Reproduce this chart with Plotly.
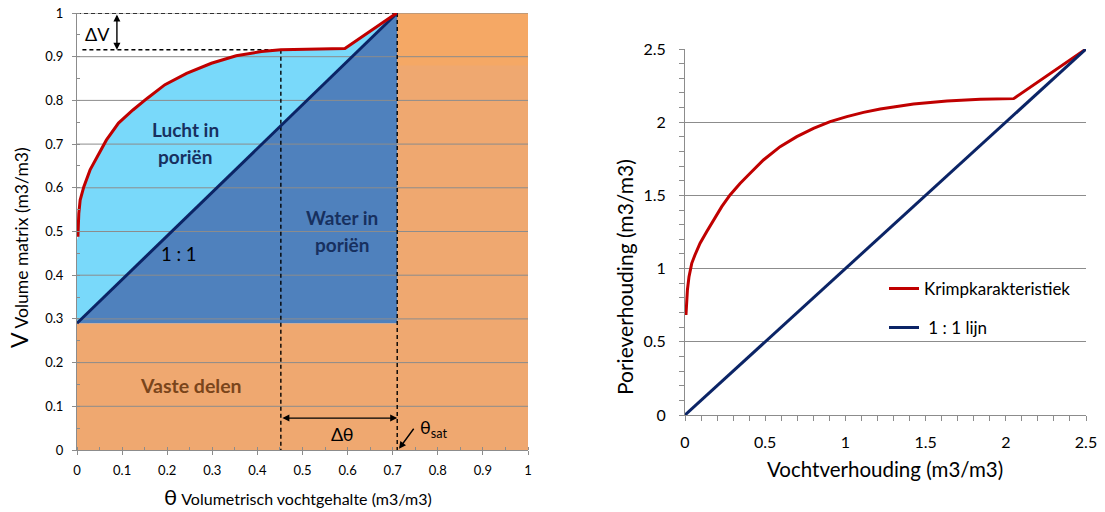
import plotly.graph_objects as go

# ---------------- data: left panel (volume vs volumetric moisture) ----------------
theta_krimp = [0.0, 0.002, 0.004, 0.007, 0.015, 0.029, 0.045, 0.065, 0.092, 0.124, 0.156,
               0.195, 0.243, 0.298, 0.353, 0.409, 0.452, 0.519, 0.594, 0.709]
v_krimp = [0.48, 0.488, 0.541, 0.572, 0.602, 0.641, 0.671, 0.709, 0.748, 0.778, 0.805,
           0.836, 0.862, 0.885, 0.902, 0.912, 0.916, 0.917, 0.919, 1.0]
solids = 0.29          # volume of solid parts
theta_sat = 0.71       # saturated moisture content
theta_point = 0.452    # marked moisture content
v_point = 0.916        # matrix volume at marked moisture content
v_band = 0.88          # lower edge of the brighter orange band
left_ticks = [0, 0.1, 0.2, 0.3, 0.4, 0.5, 0.6, 0.7, 0.8, 0.9, 1]

# ---------------- data: right panel (void ratio vs moisture ratio) ----------------
vocht = [0.006, 0.015, 0.025, 0.042, 0.062, 0.094, 0.135, 0.177, 0.229, 0.281, 0.343, 0.406,
         0.489, 0.593, 0.697, 0.801, 0.905, 1.009, 1.113, 1.217, 1.425, 1.633, 1.841, 2.049, 2.5]
porie = [0.683, 0.854, 0.945, 1.036, 1.093, 1.173, 1.252, 1.332, 1.423, 1.503, 1.582, 1.651,
         1.742, 1.833, 1.901, 1.958, 2.004, 2.038, 2.067, 2.090, 2.124, 2.145, 2.156, 2.161, 2.5]
lijn_x = [0, 2.5]
lijn_y = [0, 2.5]

FONT = "Lato, 'Open Sans', sans-serif"
RED = "#C00000"
NAVY = "#0B2466"
LIGHTBLUE = "#79D9FA"
DARKBLUE = "#4F81BD"
ORANGE = "#EFA870"
ORANGE2 = "#F5A865"
GRID = "#8C8C8C"
LABEL_BLUE = "#17305F"

fig = go.Figure()

# solid parts (orange)
fig.add_trace(go.Scatter(x=[0, theta_sat, theta_sat, 1, 1, 0, 0],
                         y=[solids, solids, 1, 1, 0, 0, solids],
                         fill="toself", fillcolor=ORANGE, mode="none",
                         showlegend=False, hoverinfo="skip", xaxis="x", yaxis="y"))
fig.add_trace(go.Scatter(x=[theta_sat, 1, 1, theta_sat, theta_sat],
                         y=[v_band, v_band, 1, 1, v_band],
                         fill="toself", fillcolor=ORANGE2, mode="none",
                         showlegend=False, hoverinfo="skip", xaxis="x", yaxis="y"))
# water in pores (dark blue)
fig.add_trace(go.Scatter(x=[0, theta_sat, theta_sat, 0],
                         y=[solids, solids + theta_sat, solids, solids],
                         fill="toself", fillcolor=DARKBLUE, mode="none",
                         showlegend=False, hoverinfo="skip", xaxis="x", yaxis="y"))
# air in pores (light blue) between shrinkage curve and 1:1 line
air_x = theta_krimp + [theta_sat, 0]
air_y = v_krimp + [solids + theta_sat, solids]
fig.add_trace(go.Scatter(x=air_x, y=air_y, fill="toself", fillcolor=LIGHTBLUE, mode="none",
                         showlegend=False, hoverinfo="skip", xaxis="x", yaxis="y"))
# gridlines drawn above the fills
gx, gy = [], []
for t in left_ticks[1:]:
    gx += [0, 1, None]
    gy += [t, t, None]
fig.add_trace(go.Scatter(x=gx, y=gy, mode="lines", line=dict(color=GRID, width=1),
                         showlegend=False, hoverinfo="skip", xaxis="x", yaxis="y"))
# dashed guide lines
dash_line = dict(color="black", width=1.4, dash="4px,3px")
fig.add_trace(go.Scatter(x=[0, theta_sat, None, 0.012, theta_point],
                         y=[1, 1, None, v_point, v_point],
                         mode="lines", line=dash_line, showlegend=False, hoverinfo="skip",
                         xaxis="x", yaxis="y"))
fig.add_trace(go.Scatter(x=[theta_point, theta_point, None, theta_sat, theta_sat],
                         y=[v_point, 0, None, 1, 0],
                         mode="lines", line=dash_line, showlegend=False, hoverinfo="skip",
                         xaxis="x", yaxis="y"))
# 1:1 line and shrinkage curve
fig.add_trace(go.Scatter(x=[0, theta_sat], y=[solids, solids + theta_sat], mode="lines",
                         line=dict(color=NAVY, width=3), showlegend=False, hoverinfo="skip",
                         xaxis="x", yaxis="y"))
fig.add_trace(go.Scatter(x=theta_krimp[1:], y=v_krimp[1:], mode="lines",
                         line=dict(color=RED, width=3), showlegend=False, hoverinfo="skip",
                         xaxis="x", yaxis="y"))

# ---------------- right panel ----------------
fig.add_trace(go.Scatter(x=vocht, y=porie, mode="lines", name="Krimpkarakteristiek",
                         line=dict(color=RED, width=3), legendgroup="a",
                         xaxis="x2", yaxis="y2"))
fig.add_trace(go.Scatter(x=lijn_x, y=lijn_y, mode="lines", name=" 1 : 1 lijn",
                         line=dict(color=NAVY, width=3), legendgroup="b",
                         xaxis="x2", yaxis="y2"))

axis_common = dict(showline=True, linecolor=GRID, linewidth=1, zeroline=False,
                   automargin=False, tickcolor=GRID)
tf13 = dict(family=FONT, size=13, color="black")
tf16 = dict(family=FONT, size=16, color="black")

fig.update_layout(
    width=1105, height=512,
    margin=dict(l=0, r=0, t=0, b=0, pad=0, autoexpand=False),
    paper_bgcolor="white", plot_bgcolor="white",
    font=dict(family=FONT, color="black"),
    xaxis=dict(domain=[77 / 1105, 528 / 1105], range=[0, 1], anchor="y",
               tickvals=left_ticks, showgrid=False, ticks="outside", ticklen=4,
               ticklabelstandoff=4, tickfont=tf13,
               minor=dict(dtick=0.05, ticks="inside", ticklen=3, tickcolor=GRID),
               **axis_common),
    yaxis=dict(domain=[62 / 512, 499 / 512], range=[0, 1], anchor="x",
               tickvals=left_ticks, showgrid=False, ticks="outside", ticklen=4,
               ticklabelstandoff=6, tickfont=tf13,
               minor=dict(dtick=0.05, ticks="inside", ticklen=3, tickcolor=GRID),
               **axis_common),
    xaxis2=dict(domain=[685 / 1105, 1086 / 1105], range=[0, 2.5], anchor="y2",
                dtick=0.5, showgrid=False, ticks="outside", ticklen=5,
                ticklabelstandoff=8, tickfont=tf16,
                minor=dict(dtick=0.1, ticks="outside", ticklen=5, tickcolor=GRID),
                **axis_common),
    yaxis2=dict(domain=[97 / 512, 463 / 512], range=[0, 2.5], anchor="x2",
                dtick=0.5, showgrid=True, gridcolor=GRID, gridwidth=1,
                ticks="outside", ticklen=5, ticklabelstandoff=10, tickfont=tf16,
                minor=dict(dtick=0.1, ticks="outside", ticklen=5, tickcolor=GRID),
                **axis_common),
    showlegend=True,
    legend=dict(x=0.800, y=0.471, xanchor="left", yanchor="top",
                font=dict(family=FONT, size=17, color="black"),
                traceorder="grouped", tracegroupgap=14, itemwidth=30,
                bgcolor="rgba(0,0,0,0)"),
)

ann = []
def label(x, y, text, size, color="black", bold=False, xref="x", yref="y", **kw):
    t = f"<b>{text}</b>" if bold else text
    ann.append(dict(x=x, y=y, xref=xref, yref=yref, text=t, showarrow=False,
                    xanchor="center", yanchor="middle",
                    font=dict(family=FONT, size=size, color=color), **kw))

label(0.24, 0.733, "Lucht in", 19, LABEL_BLUE, True)
label(0.24, 0.672, "poriën", 19, LABEL_BLUE, True)
label(0.587, 0.531, "Water in", 19, LABEL_BLUE, True)
label(0.587, 0.471, "poriën", 19, LABEL_BLUE, True)
label(0.227, 0.448, "1 : 1", 18.5, "black")
label(0.252, 0.148, "Vaste delen", 19.5, "#7A451B", True)
label(0.045, 0.952, "ΔV", 18, "black")
label(0.589, 0.037, "Δθ", 18, "black")
label(0.79, 0.05, "θ<sub>sat</sub>", 18, "black")

# arrows
arrow = dict(showarrow=True, arrowcolor="black", arrowwidth=1.4, arrowhead=2, arrowsize=1,
             startarrowhead=2, startarrowsize=1, text="", xref="x", yref="y",
             axref="x", ayref="y")
ann.append(dict(x=0.0885, y=v_point, ax=0.0885, ay=1.0, arrowside="end+start", **arrow))
ann.append(dict(x=theta_sat, y=0.073, ax=theta_point, ay=0.073, arrowside="end+start", **arrow))
ann.append(dict(x=theta_sat + 0.004, y=0.003, ax=0.749, ay=0.052, arrowside="end",
                **{k: v for k, v in arrow.items() if not k.startswith("start")}))

# axis titles
def title(px, py, text, size, angle=0):
    ann.append(dict(x=px / 1105, y=(512 - py) / 512, xref="paper", yref="paper",
                    showarrow=False, textangle=angle, xanchor="center", yanchor="middle",
                    text=text, font=dict(family=FONT, size=size, color="black")))

title(19, 248, "<span style='font-size:23px'>V</span> Volume matrix (m3/m3)", 17.5, -90)
title(298, 496, "<span style='font-size:22px'>θ</span> Volumetrisch vochtgehalte (m3/m3)", 16)
title(624, 277, "Porieverhouding (m3/m3)", 21, -90)
title(885, 469, "Vochtverhouding (m3/m3)", 20.5)

fig.update_layout(annotations=ann)
fig.write_html("out.html")
